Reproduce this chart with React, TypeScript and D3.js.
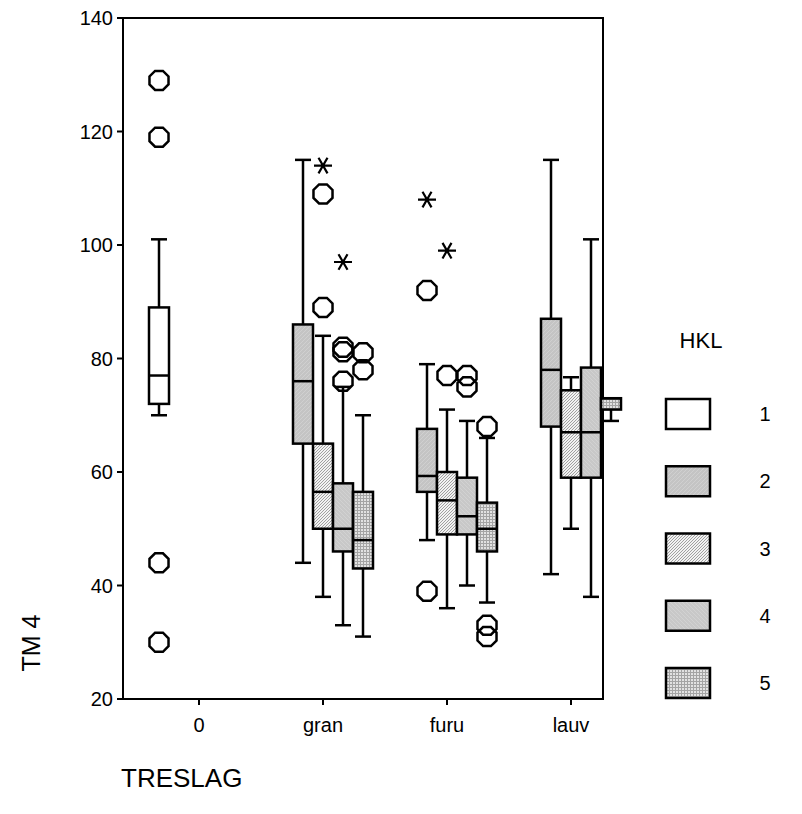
import React, { useRef, useEffect } from "react";
import * as d3 from "d3";

// categories and groups
const categories = ["0", "gran", "furu", "lauv"];
const hklLevels = ["1", "2", "3", "4", "5"];

// one entry per box
const boxCat = ["0", "gran", "gran", "gran", "gran", "furu", "furu", "furu", "furu", "lauv", "lauv", "lauv", "lauv"];
const boxHkl = ["1", "2", "3", "4", "5", "2", "3", "4", "5", "2", "3", "4", "5"];
const whiskLow = [70, 44, 38, 33, 31, 48, 36, 40, 37, 42, 50, 38, 69];
const q1 = [72, 65, 50, 46, 43, 56.5, 49, 49, 46, 68, 59, 59, 71];
const median = [77, 76, 56.5, 50, 48, 59.3, 55, 52.2, 50, 78, 67, 67, 73];
const q3 = [89, 86, 65, 58, 56.5, 67.6, 60, 59, 54.6, 87, 74.4, 78.4, 73];
const whiskHigh = [101, 115, 84, 75, 70, 79, 71, 69, 66, 115, 76.7, 101, 73];

// outliers (o = circle, e = extreme / asterisk)
const outCat = ["0", "0", "0", "0", "gran", "gran", "gran", "gran", "gran", "gran", "gran", "gran", "gran", "furu", "furu", "furu", "furu", "furu", "furu", "furu", "furu", "furu", "furu"];
const outHkl = ["1", "1", "1", "1", "3", "3", "3", "4", "4", "4", "4", "5", "5", "2", "2", "2", "3", "3", "4", "4", "5", "5", "5"];
const outVal = [129, 119, 44, 30, 114, 109, 89, 97, 82, 81.2, 76, 81, 78, 108, 92, 39, 99, 77, 77, 75, 68, 33, 31];
const outKind = ["o", "o", "o", "o", "e", "o", "o", "e", "o", "o", "o", "o", "o", "e", "o", "o", "e", "o", "o", "o", "o", "o", "o"];

const yTicks = [20, 40, 60, 80, 100, 120, 140];

const fills = ["#ffffff", "url(#p2)", "url(#p3)", "url(#p4)", "url(#p5)"];

export default function App() {
  const svgRef = useRef<SVGSVGElement>(null);

  useEffect(() => {
    const width = 802;
    const height = 814;
    const left = 123, right = 603, top = 18, bottom = 699;
    const font = "'Liberation Sans', Arial, sans-serif";
    const sw = 2.5;

    const svg = d3.select(svgRef.current).attr("width", width).attr("height", height);
    svg.selectAll("*").remove();

    // patterns
    const defs = svg.append("defs");
    const p2 = defs.append("pattern").attr("id", "p2").attr("patternUnits", "userSpaceOnUse").attr("width", 4).attr("height", 4);
    p2.append("rect").attr("width", 4).attr("height", 4).attr("fill", "#c4c4c4");
    p2.append("path").attr("d", "M0,4 L4,0").attr("stroke", "#d0d0d0").attr("stroke-width", 1);
    const p3 = defs.append("pattern").attr("id", "p3").attr("patternUnits", "userSpaceOnUse").attr("width", 3).attr("height", 3);
    p3.append("rect").attr("width", 3).attr("height", 3).attr("fill", "#f2f2f2");
    p3.append("path").attr("d", "M-1,1 L1,-1 M0,3 L3,0 M2,4 L4,2").attr("stroke", "#8c8c8c").attr("stroke-width", 0.8);
    const p4 = defs.append("pattern").attr("id", "p4").attr("patternUnits", "userSpaceOnUse").attr("width", 4).attr("height", 4);
    p4.append("rect").attr("width", 4).attr("height", 4).attr("fill", "#c8c8c8");
    p4.append("path").attr("d", "M0,0 L4,4").attr("stroke", "#d2d2d2").attr("stroke-width", 1);
    const p5 = defs.append("pattern").attr("id", "p5").attr("patternUnits", "userSpaceOnUse").attr("width", 3).attr("height", 3);
    p5.append("rect").attr("width", 3).attr("height", 3).attr("fill", "#e2e2e2");
    p5.append("rect").attr("width", 3).attr("height", 1).attr("fill", "#a4a4a4");
    p5.append("rect").attr("width", 1).attr("height", 3).attr("fill", "#a4a4a4");

    const x = d3.scalePoint<string>().domain(categories).range([199, 571]);
    const slot = d3.scaleBand<string>().domain(hklLevels).range([-50, 50]).padding(0);
    const y = d3.scaleLinear().domain([20, 140]).range([bottom, top]);
    const bw = slot.bandwidth();
    const cx = (c: string, h: string) => (x(c) as number) + (slot(h) as number) + bw / 2;

    // frame
    svg.append("rect").attr("x", left).attr("y", top).attr("width", right - left).attr("height", bottom - top)
      .attr("fill", "none").attr("stroke", "#000").attr("stroke-width", 2);

    // y axis ticks
    const yg = svg.append("g");
    yTicks.forEach((t) => {
      yg.append("line").attr("x1", left - 6).attr("x2", left).attr("y1", y(t)).attr("y2", y(t)).attr("stroke", "#000").attr("stroke-width", 2);
      yg.append("text").attr("x", 113).attr("y", y(t)).attr("dy", "0.36em").attr("text-anchor", "end")
        .attr("font-family", font).attr("font-size", 20).text(t);
    });

    // x axis ticks
    categories.forEach((c) => {
      svg.append("line").attr("x1", x(c)).attr("x2", x(c)).attr("y1", bottom).attr("y2", bottom + 6).attr("stroke", "#000").attr("stroke-width", 2);
      svg.append("text").attr("x", x(c)).attr("y", 732).attr("text-anchor", "middle")
        .attr("font-family", font).attr("font-size", 20).text(c);
    });

    // boxes
    const g = svg.append("g");
    boxCat.forEach((c, i) => {
      const h = boxHkl[i];
      const mx = cx(c, h);
      const x0 = mx - bw / 2;
      const line = (x1: number, y1: number, x2: number, y2: number) =>
        g.append("line").attr("x1", x1).attr("y1", y1).attr("x2", x2).attr("y2", y2).attr("stroke", "#000").attr("stroke-width", sw);
      line(mx, y(whiskHigh[i]), mx, y(q3[i]));
      line(mx, y(whiskLow[i]), mx, y(q1[i]));
      line(mx - 8, y(whiskHigh[i]), mx + 8, y(whiskHigh[i]));
      line(mx - 8, y(whiskLow[i]), mx + 8, y(whiskLow[i]));
      g.append("rect").attr("x", x0).attr("y", y(q3[i])).attr("width", bw).attr("height", Math.max(0, y(q1[i]) - y(q3[i])))
        .attr("fill", fills[hklLevels.indexOf(h)]).attr("stroke", "#000").attr("stroke-width", sw);
      line(x0, y(median[i]), x0 + bw, y(median[i]));
    });

    // outliers
    const octagon = (r: number) => {
      const pts = d3.range(8).map((k) => {
        const a = Math.PI / 8 + (k * Math.PI) / 4;
        return [r * Math.cos(a), r * Math.sin(a)];
      });
      return "M" + pts.map((p) => p.join(",")).join("L") + "Z";
    };
    outCat.forEach((c, i) => {
      const px = cx(c, outHkl[i]);
      const py = y(outVal[i]);
      if (outKind[i] === "o") {
        g.append("path").attr("d", octagon(10.3)).attr("transform", `translate(${px},${py})`)
          .attr("fill", "none").attr("stroke", "#000").attr("stroke-width", sw);
      } else {
        const r = 9;
        const dx = r * Math.cos(Math.PI / 3), dy = r * Math.sin(Math.PI / 3);
        g.append("path").attr("d", `M${-r},0L${r},0M${-dx},${-dy}L${dx},${dy}M${-dx},${dy}L${dx},${-dy}`)
          .attr("transform", `translate(${px},${py})`).attr("stroke", "#000").attr("stroke-width", 2.2);
      }
    });

    // legend
    svg.append("text").attr("x", 701).attr("y", 348).attr("text-anchor", "middle")
      .attr("font-family", font).attr("font-size", 22).text("HKL");
    const ly = d3.scalePoint<string>().domain(hklLevels).range([414, 683]);
    hklLevels.forEach((h, i) => {
      svg.append("rect").attr("x", 666).attr("y", (ly(h) as number) - 15).attr("width", 44).attr("height", 30)
        .attr("fill", fills[i]).attr("stroke", "#000").attr("stroke-width", sw);
      svg.append("text").attr("x", 765).attr("y", ly(h) as number).attr("dy", "0.36em").attr("text-anchor", "middle")
        .attr("font-family", font).attr("font-size", 20).text(h);
    });

    // axis titles
    svg.append("text").attr("transform", "translate(40,643) rotate(-90)").attr("text-anchor", "middle")
      .attr("font-family", font).attr("font-size", 25).text("TM 4");
    svg.append("text").attr("x", 121).attr("y", 787)
      .attr("font-family", font).attr("font-size", 26).text("TRESLAG");
  }, []);

  return <svg ref={svgRef} style={{ position: "absolute", left: 0, top: 0, background: "#fff" }} />;
}
